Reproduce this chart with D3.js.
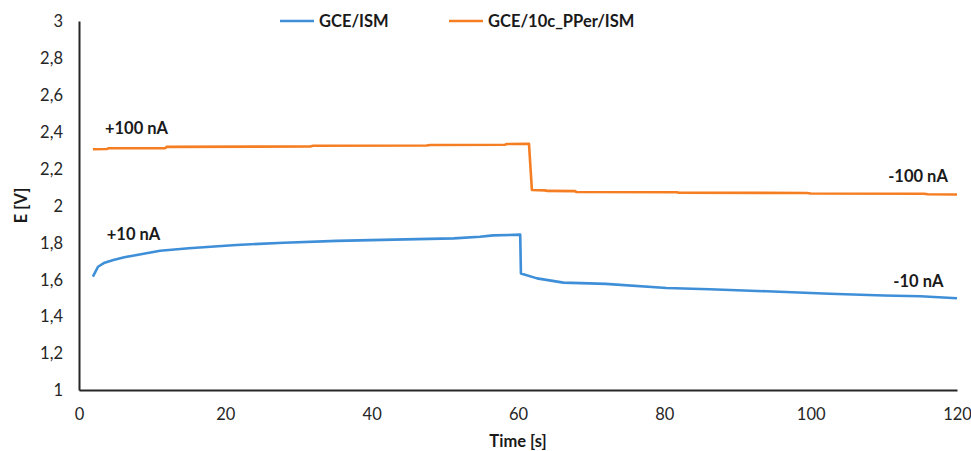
<!DOCTYPE html>
<html>
<head>
<meta charset="utf-8">
<script src="https://cdn.jsdelivr.net/npm/d3@7"></script>
<style>
  body { margin: 0; background: #fff; }
  text { font-family: Lato, "Open Sans", sans-serif; }
</style>
</head>
<body>
<div id="chart"></div>
<script>
// data
var gceTime = [1.9, 2.6, 3.5, 4.7, 6.2, 7.9, 11.1, 15, 21.5, 28, 35.2, 43, 51.2, 54.8, 56.6, 60.3,
               60.4, 62.6, 66.2, 72, 80.3, 86.2, 94, 102.6, 110, 115, 120];
var gceE = [1.614, 1.668, 1.69, 1.705, 1.72, 1.732, 1.755, 1.768, 1.786, 1.798, 1.808, 1.815, 1.822, 1.831, 1.838, 1.842,
            1.632, 1.605, 1.582, 1.575, 1.553, 1.546, 1.535, 1.522, 1.512, 1.508, 1.497];

var ppTime = [1.9, 3.8, 4, 11.8, 12, 31.6, 32, 47.5, 48, 58.2, 58.4, 61.5, 61.9, 63.7, 64, 67.8, 68, 81.7, 82, 99.5, 100, 115.5, 116, 120];
var ppE = [2.305, 2.306, 2.31, 2.311, 2.318, 2.32, 2.324, 2.325, 2.328, 2.329, 2.333, 2.335, 2.084, 2.082, 2.079, 2.078, 2.073, 2.072, 2.069, 2.068, 2.065, 2.064, 2.061, 2.06];

var seriesNames = ["GCE/ISM", "GCE/10c_PPer/ISM"];
var seriesColors = ["#3f8fd8", "#f57d22"];
var yTicks = [1, 1.2, 1.4, 1.6, 1.8, 2, 2.2, 2.4, 2.6, 2.8, 3];
var xTicks = [0, 20, 40, 60, 80, 100, 120];

var annotations = [
    {text: "+100 nA", t: 3.55, e: 2.39},
    {text: "+10 nA", t: 3.8, e: 1.813},
    {text: "-100 nA", t: 110.6, e: 2.127},
    {text: "-10 nA", t: 111.3, e: 1.558}
];

var svgWidth = 971;
var svgHeight = 451;
var margin = {top: 21, right: 14, bottom: 61, left: 79};
var width = svgWidth - margin.left - margin.right;
var height = svgHeight - margin.top - margin.bottom;

var svg = d3.select("#chart")
    .append("svg")
    .attr("width", svgWidth)
    .attr("height", svgHeight);

var chartGroup = svg.append("g")
    .attr("transform", `translate(${margin.left}, ${margin.top})`);

var x = d3.scaleLinear().domain([0, 120]).range([0, width]);
var y = d3.scaleLinear().domain([1, 3]).range([height, 0]);

// axes, no tick marks
var bottomAxis = d3.axisBottom(x).tickValues(xTicks).tickSize(0).tickPadding(18);
var leftAxis = d3.axisLeft(y).tickValues(yTicks).tickSize(0).tickPadding(16)
    .tickFormat(d => String(d).replace(".", ","));

var xg = chartGroup.append("g")
    .attr("transform", `translate(0, ${height})`)
    .call(bottomAxis);
var yg = chartGroup.append("g").call(leftAxis);

[xg, yg].forEach(function(g) {
    g.select(".domain").attr("stroke", "#262626").attr("stroke-width", 2);
    g.selectAll("text")
        .attr("font-size", "16.5px")
        .attr("fill", "#262626")
        .style("font-family", "Lato, 'Open Sans', sans-serif");
});
yg.selectAll("text").attr("dy", "0.35em");

// lines
var line = d3.line()
    .x(d => x(d[0]))
    .y(d => y(d[1]));

var seriesData = [
    d3.zip(gceTime, gceE),
    d3.zip(ppTime, ppE)
];

chartGroup.selectAll(".series")
    .data(seriesData)
    .enter()
    .append("path")
    .attr("class", "series")
    .attr("d", line)
    .attr("fill", "none")
    .attr("stroke", (d, i) => seriesColors[i])
    .attr("stroke-width", 2.6)
    .attr("stroke-linejoin", "round");

// annotations
chartGroup.selectAll(".note")
    .data(annotations)
    .enter()
    .append("text")
    .attr("class", "note")
    .attr("x", d => x(d.t))
    .attr("y", d => y(d.e))
    .attr("font-size", "16.5px")
    .attr("font-weight", "bold")
    .attr("fill", "#1a1a1a")
    .text(d => d.text);

// legend
var legendX = [280, 449];
var legend = svg.selectAll(".legend")
    .data(seriesNames)
    .enter()
    .append("g")
    .attr("class", "legend")
    .attr("transform", (d, i) => `translate(${legendX[i]}, 21)`);

legend.append("line")
    .attr("x1", 0).attr("x2", 34)
    .attr("stroke", (d, i) => seriesColors[i])
    .attr("stroke-width", 2.6);

legend.append("text")
    .attr("x", 39)
    .attr("dy", "0.36em")
    .attr("font-size", "16.5px")
    .attr("font-weight", "bold")
    .attr("fill", "#1a1a1a")
    .text(d => d);

// axis labels
svg.append("text")
    .attr("transform", `translate(${margin.left + width / 2}, 447)`)
    .attr("text-anchor", "middle")
    .attr("font-size", "16.5px")
    .attr("font-weight", "bold")
    .attr("fill", "#1a1a1a")
    .text("Time [s]");

svg.append("text")
    .attr("transform", `translate(27, ${margin.top + height / 2}) rotate(-90)`)
    .attr("text-anchor", "middle")
    .attr("font-size", "16.5px")
    .attr("font-weight", "bold")
    .attr("fill", "#1a1a1a")
    .text("E [V]");
</script>
</body>
</html>
